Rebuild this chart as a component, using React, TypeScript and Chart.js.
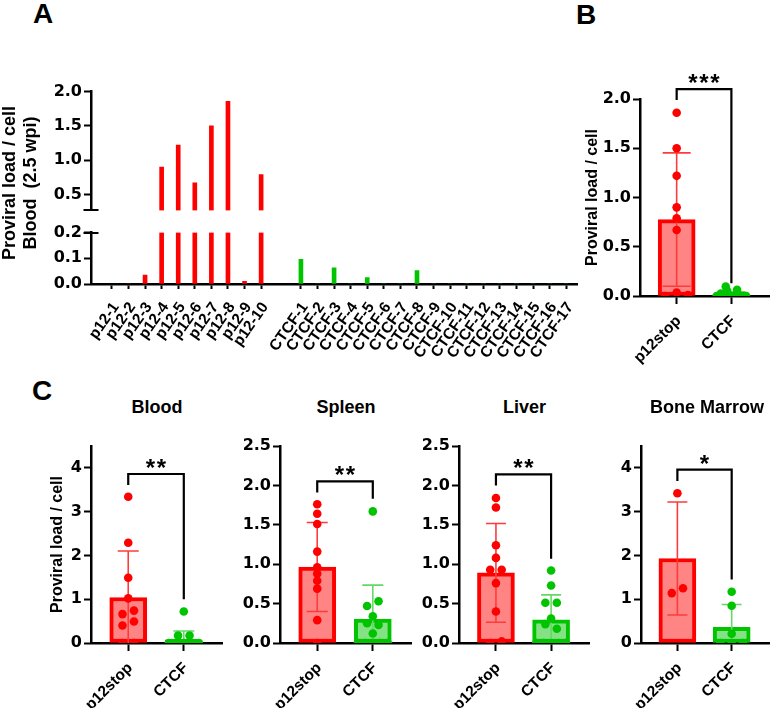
import React, { useEffect, useRef } from 'react';
import { Chart, registerables } from 'chart.js';

Chart.register(...registerables);

// ---------- Panel A: proviral load per mouse, blood, 2.5 wpi ----------
const P12_MICE = ['p12-1', 'p12-2', 'p12-3', 'p12-4', 'p12-5', 'p12-6', 'p12-7', 'p12-8', 'p12-9', 'p12-10'];
const P12_BLOOD_WK25: (number | null)[] = [null, 0, 0.035, 0.9, 1.22, 0.67, 1.5, 1.86, 0.01, 0.79];
const CTCF_MICE = ['CTCF-1', 'CTCF-2', 'CTCF-3', 'CTCF-4', 'CTCF-5', 'CTCF-6', 'CTCF-7', 'CTCF-8', 'CTCF-9',
  'CTCF-10', 'CTCF-11', 'CTCF-12', 'CTCF-13', 'CTCF-14', 'CTCF-15', 'CTCF-16', 'CTCF-17'];
const CTCF_BLOOD_WK25 = [0.096, 0, 0.063, 0, 0.025, 0, 0, 0.052, 0, 0, 0, 0, 0, 0, 0, 0, 0];
const A_UPPER_TICKS = [0.5, 1.0, 1.5, 2.0];
const A_LOWER_TICKS = [0, 0.1, 0.2];
const A_BREAK_LOW = 0.2;   // top of the lower segment
const A_BREAK_HIGH = 0.27; // bottom of the upper segment
const A_MAX = 2.0;

// ---------- Panel B: group summary ----------
const GROUPS = ['p12stop', 'CTCF'];
const B_MEAN = [0.776, 0.014];
const B_SD = [0.677, 0.029];
const B_TICKS = [0, 0.5, 1.0, 1.5, 2.0];

// ---------- Panel C: tissues ----------
const BLOOD_P12 = [3.34, 2.29, 1.49, 1.02, 0.66, 0.74, 0.40, 0.49, 0, 0];
const BLOOD_CTCF = [0.72, 0.17, 0.17, 0, 0, 0, 0, 0, 0, 0, 0, 0, 0, 0];
const BLOOD_MEAN = [1.04, 0.075];
const BLOOD_SD = [1.06, 0.2];

const SPLEEN_P12 = [1.76, 1.64, 1.51, 1.16, 0.96, 0.88, 0.79, 0.69, 0.29, 0];
const SPLEEN_CTCF = [1.67, 0.47, 0.53, 0.34, 0.25, 0.23, 0.12, 0, 0, 0, 0, 0];
const SPLEEN_MEAN = [0.965, 0.305];
const SPLEEN_SD = [0.565, 0.43];

const LIVER_P12 = [1.84, 1.72, 1.24, 1.08, 0.93, 0.93, 0.76, 0.40, 0, 0.02];
const LIVER_CTCF = [0.92, 0.73, 0.51, 0.51, 0.31, 0.24, 0.18, 0, 0, 0, 0, 0];
const LIVER_MEAN = [0.89, 0.293];
const LIVER_SD = [0.627, 0.318];

const MARROW_P12 = [3.42, 1.14, 1.25];
const MARROW_CTCF = [1.17, 0.85, 0.21, 0, 0, 0];
const MARROW_MEAN = [1.93, 0.36];
const MARROW_SD = [1.29, 0.52];

const TICKS_0_4 = [0, 1, 2, 3, 4];
const TICKS_0_25 = [0, 0.5, 1.0, 1.5, 2.0, 2.5];

const RED = '#ff0000';
const RED_FILL = '#ff8484';
const RED_ERR = '#ff3a3a';
const GREEN = '#00c400';
const GREEN_FILL = '#84e284';
const GREEN_ERR = '#66d866';

const SANS = '"Liberation Sans", Arial, Helvetica, sans-serif';
const TICK_FONT = { family: '"DejaVu Sans", sans-serif', size: 16, weight: 'bold' as const };
const XLABEL_FONT = { family: SANS, size: 15.5, weight: 'bold' as const };

Chart.defaults.font.family = SANS;
Chart.defaults.color = '#000';

type Rect = { left: number; top: number; right: number; bottom: number };
type Pad = { top: number; right: number; bottom: number; left: number };

// ---------- plugins ----------
const errorBars = {
  id: 'errorBars',
  afterDatasetDraw(chart: any, args: any, opts: any) {
    if (!opts || !opts.means || args.index !== 0) return;
    const { ctx, chartArea: a, scales } = chart;
    const x = scales.x;
    const y = scales.y;
    ctx.save();
    ctx.beginPath();
    ctx.rect(a.left, a.top, a.right - a.left, a.bottom - a.top);
    ctx.clip();
    ctx.lineWidth = 1.6;
    for (let i = 0; i < opts.means.length; i++) {
      const px = x.getPixelForValue(i);
      const hi = y.getPixelForValue(opts.means[i] + opts.sds[i]);
      const lo = y.getPixelForValue(opts.means[i] - opts.sds[i]);
      const half = opts.cap / 2;
      ctx.strokeStyle = opts.colors[i];
      ctx.beginPath();
      ctx.moveTo(px, hi);
      ctx.lineTo(px, lo);
      ctx.moveTo(px - half, hi);
      ctx.lineTo(px + half, hi);
      ctx.moveTo(px - half, lo);
      ctx.lineTo(px + half, lo);
      ctx.stroke();
    }
    ctx.restore();
  },
};

const sigBracket = {
  id: 'sigBracket',
  afterDraw(chart: any, _args: any, opts: any) {
    if (!opts || !opts.stars) return;
    const { ctx, scales } = chart;
    const xl = scales.x.getPixelForValue(0);
    const xr = scales.x.getPixelForValue(1);
    const yt = scales.y.getPixelForValue(opts.top);
    const yl = scales.y.getPixelForValue(opts.leftEnd);
    const yr = scales.y.getPixelForValue(opts.rightEnd);
    ctx.save();
    ctx.strokeStyle = '#000';
    ctx.lineWidth = 2.2;
    ctx.lineJoin = 'miter';
    ctx.beginPath();
    ctx.moveTo(xl, yl);
    ctx.lineTo(xl, yt);
    ctx.lineTo(xr, yt);
    ctx.lineTo(xr, yr);
    ctx.stroke();
    ctx.fillStyle = '#000';
    ctx.font = `bold 24px ${SANS}`;
    ctx.textAlign = 'center';
    ctx.textBaseline = 'alphabetic';
    const n = opts.stars;
    const cx = (xl + xr) / 2;
    for (let i = 0; i < n; i++) {
      ctx.fillText('*', cx + (i - (n - 1) / 2) * 11, yt + 2);
    }
    ctx.restore();
  },
};

const breakMarks = {
  id: 'breakMarks',
  afterDraw(chart: any, _args: any, opts: any) {
    if (!opts || !opts.values) return;
    const { ctx, chartArea: a, scales } = chart;
    ctx.save();
    ctx.strokeStyle = '#000';
    ctx.lineWidth = 2;
    for (const v of opts.values) {
      const py = Math.round(scales.y.getPixelForValue(v));
      ctx.beginPath();
      ctx.moveTo(a.left - 7.5, py);
      ctx.lineTo(a.left + 7.5, py);
      ctx.stroke();
    }
    ctx.restore();
  },
};

// ---------- helpers ----------
function frameOf(plot: Rect, yw: number, xh: number, pad: Pad) {
  const x = plot.left - yw - pad.left;
  const y = plot.top - pad.top;
  return { x, y, w: plot.right + pad.right - x, h: plot.bottom + xh + pad.bottom - y };
}

const AXIS_BORDER = { display: true, color: '#000', width: 2.5 };

function yScale(min: number, max: number, ticks: number[], yw: number, digits: number, title?: any) {
  return {
    type: 'linear',
    position: 'left',
    min,
    max,
    afterBuildTicks: (s: any) => { s.ticks = ticks.map((v) => ({ value: v })); },
    afterFit: (s: any) => { s.width = yw; },
    border: AXIS_BORDER,
    grid: { drawOnChartArea: false, drawTicks: true, tickLength: 7, tickWidth: 2, tickColor: '#000' },
    ticks: { color: '#000', font: TICK_FONT, padding: 2, callback: (v: number) => v.toFixed(digits) },
    title: title || { display: false },
  };
}

function xScale(min: number, max: number, positions: number[], labels: string[], xh: number,
  rotation: number, tickLength: number, labelPad: number, labelShift: number, show = true) {
  return {
    type: 'linear',
    position: 'bottom',
    display: show,
    offset: false,
    min,
    max,
    afterBuildTicks: (s: any) => { s.ticks = positions.map((v) => ({ value: v })); },
    afterFit: (s: any) => { s.height = xh; },
    border: AXIS_BORDER,
    grid: { drawOnChartArea: false, drawTicks: true, tickLength, tickWidth: 2, tickColor: '#000', offset: false },
    ticks: {
      color: '#000', font: XLABEL_FONT, padding: labelPad, autoSkip: false, labelOffset: labelShift,
      minRotation: rotation, maxRotation: rotation,
      callback: (_v: number, i: number) => labels[i],
    },
  };
}

const BASE_OPTIONS = {
  responsive: false,
  animation: false,
  events: [],
  plugins: { legend: { display: false }, tooltip: { enabled: false } },
};

function ChartCanvas({ plot, yw, xh, pad, build }:
  { plot: Rect; yw: number; xh: number; pad: Pad; build: () => any }) {
  const ref = useRef<HTMLCanvasElement>(null);
  const f = frameOf(plot, yw, xh, pad);
  useEffect(() => {
    const chart = new Chart(ref.current as HTMLCanvasElement, build());
    return () => chart.destroy();
  }, []);
  return (
    <canvas ref={ref} width={f.w} height={f.h}
      style={{ position: 'absolute', left: f.x, top: f.y, width: f.w, height: f.h }} />
  );
}

// Points whose values sit too close to stack share a row and are spread sideways,
// left to right in the order they were recorded.
function swarm(values: number[], group: number, pxPerY: number, pxPerX: number) {
  const idx = values.map((_, i) => i).sort((a, b) => values[a] - values[b]);
  const rows: number[][] = [];
  for (const i of idx) {
    const row = rows[rows.length - 1];
    if (row && (values[i] - values[row[0]]) * pxPerY < 5.5) row.push(i);
    else rows.push([i]);
  }
  const pts: { x: number; y: number }[] = [];
  for (const row of rows) {
    row.sort((a, b) => a - b);
    const step = row.length > 1 ? Math.min(11.5, 30 / (row.length - 1)) : 0;
    row.forEach((i, k) => pts.push({ x: group + ((k - (row.length - 1) / 2) * step) / pxPerX, y: values[i] }));
  }
  return pts;
}

// ---------- panel A ----------
const A_LEFT = 91;
const A_RIGHT = 577;
const A_X_MIN = -0.26;
const A_X_MAX = 29.05;
const A_CTCF_START = 11.4;
const A_POS = [...P12_MICE.map((_, i) => i + 1), ...CTCF_MICE.map((_, j) => A_CTCF_START + j + 1)];
const A_LABELS = [...P12_MICE, ...CTCF_MICE];

function panelABars(lower: boolean) {
  const clip = (v: number | null) => {
    if (v === null) return null;
    if (lower) return Math.min(v, A_BREAK_LOW);
    return v > A_BREAK_HIGH ? [A_BREAK_HIGH, v] : null;
  };
  const red = P12_BLOOD_WK25.map((v, i) => ({ x: i + 1, y: clip(v) }));
  const green = CTCF_BLOOD_WK25.map((v, j) => ({ x: A_CTCF_START + j + 1, y: clip(v) }));
  const ds = (data: any[], color: string) => ({
    type: 'bar', data, backgroundColor: color, borderWidth: 0, barThickness: 4, grouped: false,
  });
  return [ds(red, RED), ds(green, GREEN)];
}

function PanelA() {
  const upper: Rect = { left: A_LEFT, right: A_RIGHT, top: 90, bottom: 212 };
  const lowerR: Rect = { left: A_LEFT, right: A_RIGHT, top: 231, bottom: 284 };
  const pad: Pad = { top: 10, right: 15, bottom: 10, left: 10 };
  const padLow: Pad = { top: 10, right: 15, bottom: 0, left: 10 };
  return (
    <>
      <ChartCanvas plot={upper} yw={60} xh={0} pad={pad} build={() => ({
        type: 'bar',
        data: { datasets: panelABars(false) },
        options: {
          ...BASE_OPTIONS,
          layout: { padding: pad },
          scales: {
            x: xScale(A_X_MIN, A_X_MAX, A_POS, A_LABELS, 0, 55, 5, 10, 4, false),
            y: yScale(A_BREAK_HIGH, A_MAX, A_UPPER_TICKS, 60, 1),
          },
          plugins: { ...BASE_OPTIONS.plugins, breakMarks: { values: [A_BREAK_HIGH] } },
        },
        plugins: [breakMarks],
      })} />
      <ChartCanvas plot={lowerR} yw={60} xh={95} pad={padLow} build={() => ({
        type: 'bar',
        data: { datasets: panelABars(true) },
        options: {
          ...BASE_OPTIONS,
          layout: { padding: padLow },
          scales: {
            x: xScale(A_X_MIN, A_X_MAX, A_POS, A_LABELS, 95, 55, 5, 10, 4),
            y: yScale(0, A_BREAK_LOW, A_LOWER_TICKS, 60, 1),
          },
          plugins: { ...BASE_OPTIONS.plugins, breakMarks: { values: [A_BREAK_LOW] } },
        },
        plugins: [breakMarks],
      })} />
      <div style={{
        position: 'absolute', left: 20 - 110, top: 183 - 21, width: 220, height: 42,
        transform: 'rotate(-90deg)', textAlign: 'center', font: `bold 18px ${SANS}`,
        lineHeight: '21px', color: '#000', whiteSpace: 'pre',
      }}>
        {'Proviral load / cell\nBlood  (2.5 wpi)'}
      </div>
    </>
  );
}

// ---------- group charts (B and C) ----------
const G_X_MIN = -0.67;
const G_X_MAX = 1.7;

type GroupSpec = {
  plot: Rect; ymax: number; ticks: number[]; digits: number; yw: number; pad: Pad; xh: number;
  p12: number[]; ctcf: number[]; mean: number[]; sd: number[]; cap: number;
  bracket: { top: number; leftEnd: number; rightEnd: number; stars: number };
  title?: any;
};

function GroupChart({ s }: { s: GroupSpec }) {
  const pxPerY = (s.plot.bottom - s.plot.top) / s.ymax;
  const pxPerX = (s.plot.right - s.plot.left) / (G_X_MAX - G_X_MIN);
  return (
    <ChartCanvas plot={s.plot} yw={s.yw} xh={s.xh} pad={s.pad} build={() => ({
      type: 'bar',
      data: {
        datasets: [
          {
            type: 'bar', order: 3, grouped: false, barThickness: 37, borderWidth: 4, borderSkipped: false,
            data: s.mean.map((m, i) => ({ x: i, y: m })),
            backgroundColor: [RED_FILL, GREEN_FILL], borderColor: [RED, GREEN],
          },
          {
            type: 'scatter', order: 1, data: swarm(s.p12, 0, pxPerY, pxPerX),
            pointRadius: 4.3, backgroundColor: RED, borderColor: RED, borderWidth: 0,
          },
          {
            type: 'scatter', order: 2, data: swarm(s.ctcf, 1, pxPerY, pxPerX),
            pointRadius: 4.3, backgroundColor: GREEN, borderColor: GREEN, borderWidth: 0,
          },
        ],
      },
      options: {
        ...BASE_OPTIONS,
        layout: { padding: s.pad },
        scales: {
          x: xScale(G_X_MIN, G_X_MAX, [0, 1], GROUPS, s.xh, 45, 8, 8, 2),
          y: yScale(0, s.ymax, s.ticks, s.yw, s.digits, s.title),
        },
        plugins: {
          ...BASE_OPTIONS.plugins,
          errorBars: { means: s.mean, sds: s.sd, colors: [RED_ERR, GREEN_ERR], cap: s.cap },
          sigBracket: s.bracket,
        },
      },
      plugins: [errorBars, sigBracket],
    })} />
  );
}

const yTitle = (padTop: number) => ({
  display: true, text: 'Proviral load / cell', color: '#000',
  font: { family: SANS, size: 16, weight: 'bold' }, padding: { top: padTop, bottom: 0 },
});

const B_SPEC: GroupSpec = {
  plot: { left: 640, right: 772, top: 99, bottom: 296 }, ymax: 2.0, ticks: B_TICKS, digits: 1,
  yw: 80, pad: { top: 40, right: 2, bottom: 4, left: 0 }, xh: 74,
  p12: P12_BLOOD_WK25.filter((v): v is number => v !== null), ctcf: CTCF_BLOOD_WK25,
  mean: B_MEAN, sd: B_SD, cap: 28,
  bracket: { top: 2.1, leftEnd: 1.99, rightEnd: 0.13, stars: 3 },
  title: yTitle(23.4),
};

const C_TOP = 446;
const C_BOTTOM = 643;
const C_PAD_WIDE: Pad = { top: 12, right: 4, bottom: 0, left: 0 };
const C_SPECS: { name: string; spec: GroupSpec }[] = [
  {
    name: 'Blood',
    spec: {
      plot: { left: 91, right: 223, top: C_TOP, bottom: C_BOTTOM }, ymax: 4.5, ticks: TICKS_0_4, digits: 0,
      yw: 91, pad: C_PAD_WIDE, xh: 75, p12: BLOOD_P12, ctcf: BLOOD_CTCF, mean: BLOOD_MEAN, sd: BLOOD_SD, cap: 21,
      bracket: { top: 3.86, leftEnd: 3.61, rightEnd: 1.0, stars: 2 }, title: yTitle(48.4),
    },
  },
  {
    name: 'Spleen',
    spec: {
      plot: { left: 280, right: 412, top: C_TOP, bottom: C_BOTTOM }, ymax: 2.5, ticks: TICKS_0_25, digits: 1,
      yw: 50, pad: C_PAD_WIDE, xh: 75, p12: SPLEEN_P12, ctcf: SPLEEN_CTCF, mean: SPLEEN_MEAN, sd: SPLEEN_SD, cap: 21,
      bracket: { top: 2.05, leftEnd: 1.91, rightEnd: 1.83, stars: 2 },
    },
  },
  {
    name: 'Liver',
    spec: {
      plot: { left: 459, right: 590, top: C_TOP, bottom: C_BOTTOM }, ymax: 2.5, ticks: TICKS_0_25, digits: 1,
      yw: 50, pad: C_PAD_WIDE, xh: 75, p12: LIVER_P12, ctcf: LIVER_CTCF, mean: LIVER_MEAN, sd: LIVER_SD, cap: 20,
      bracket: { top: 2.14, leftEnd: 2.0, rightEnd: 1.07, stars: 2 },
    },
  },
  {
    name: 'Bone Marrow',
    spec: {
      plot: { left: 641, right: 773, top: C_TOP, bottom: C_BOTTOM }, ymax: 4.5, ticks: TICKS_0_4, digits: 0,
      yw: 40, pad: { top: 12, right: 1, bottom: 0, left: 0 }, xh: 75, p12: MARROW_P12, ctcf: MARROW_CTCF,
      mean: MARROW_MEAN, sd: MARROW_SD, cap: 20,
      bracket: { top: 3.96, leftEnd: 3.7, rightEnd: 1.45, stars: 1 },
    },
  },
];

const LETTER: React.CSSProperties = {
  position: 'absolute', font: `bold 28px ${SANS}`, lineHeight: '28px', color: '#000',
};
const TITLE: React.CSSProperties = {
  position: 'absolute', font: `bold 18px ${SANS}`, lineHeight: '18px', color: '#000',
  textAlign: 'center', width: 200, top: 398,
};

export default function App() {
  return (
    <div style={{
      position: 'absolute', left: 0, top: 0, width: 774, height: 708, overflow: 'hidden', background: '#fff',
    }}>
      <div style={{ ...LETTER, left: 33, top: 0 }}>A</div>
      <div style={{ ...LETTER, left: 576, top: 1 }}>B</div>
      <div style={{ ...LETTER, left: 32, top: 377 }}>C</div>
      <PanelA />
      <GroupChart s={B_SPEC} />
      {C_SPECS.map(({ name, spec }) => (
        <React.Fragment key={name}>
          <div style={{ ...TITLE, left: (spec.plot.left + spec.plot.right) / 2 - 100 }}>{name}</div>
          <GroupChart s={spec} />
        </React.Fragment>
      ))}
    </div>
  );
}
